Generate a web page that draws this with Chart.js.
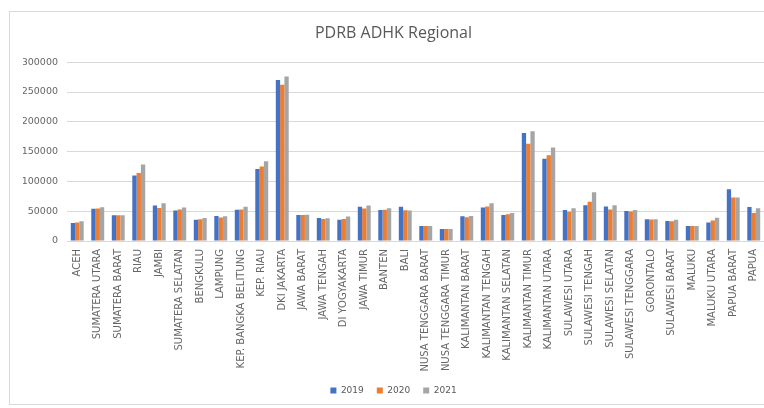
<!DOCTYPE html>
<html>
<head>
<meta charset="utf-8">
<script src="https://cdn.jsdelivr.net/npm/chart.js@4"></script>
<style>
  html, body { margin: 0; padding: 0; background: #fff; }
  #wrap { position: relative; width: 764px; height: 408px; }
</style>
</head>
<body>
<div id="wrap"><canvas id="pdrbChart" width="764" height="408"></canvas></div>
<script>
// Provinces
const provinces = [
    'ACEH', 'SUMATERA UTARA', 'SUMATERA BARAT', 'RIAU', 'JAMBI', 'SUMATERA SELATAN',
    'BENGKULU', 'LAMPUNG', 'KEP. BANGKA BELITUNG', 'KEP. RIAU', 'DKI JAKARTA',
    'JAWA BARAT', 'JAWA TENGAH', 'DI YOGYAKARTA', 'JAWA TIMUR', 'BANTEN', 'BALI',
    'NUSA TENGGARA BARAT', 'NUSA TENGGARA TIMUR', 'KALIMANTAN BARAT', 'KALIMANTAN TENGAH',
    'KALIMANTAN SELATAN', 'KALIMANTAN TIMUR', 'KALIMANTAN UTARA', 'SULAWESI UTARA',
    'SULAWESI TENGAH', 'SULAWESI SELATAN', 'SULAWESI TENGGARA', 'GORONTALO',
    'SULAWESI BARAT', 'MALUKU', 'MALUKU UTARA', 'PAPUA BARAT', 'PAPUA'
];

// Values per year
const pdrb2019 = [30000, 54000, 43000, 110000, 59500, 51000, 35500, 42000, 52500, 121000, 270000,
    43500, 38500, 35500, 57500, 52000, 57500, 25000, 20000, 41500, 56000,
    43500, 181000, 138000, 52000, 60000, 58000, 50500, 36500, 33500, 25000, 31000, 87000, 57000];
const pdrb2020 = [31000, 54500, 43000, 114000, 55500, 53000, 36500, 39500, 53000, 125000, 262000,
    43500, 37000, 37000, 54500, 52500, 51500, 25000, 20000, 40000, 58000,
    45000, 163000, 144000, 49000, 66000, 53000, 49500, 36000, 33000, 25000, 34500, 73000, 47000];
const pdrb2021 = [33000, 56500, 43000, 128500, 63500, 56000, 38500, 41500, 57500, 134000, 276000,
    44000, 38000, 41000, 59500, 55000, 51000, 25000, 20000, 42000, 63500,
    47000, 184000, 157000, 55000, 82000, 60000, 52000, 36500, 35500, 25000, 39000, 73000, 55000];

const years = ['2019', '2020', '2021'];
const yMax = 300000;
const yStep = 50000;

// Light frame around the chart, like the Excel chart border
const framePlugin = {
    id: 'frame',
    beforeDraw(chart) {
        const ctx = chart.ctx;
        ctx.save();
        ctx.fillStyle = '#fff';
        ctx.fillRect(0, 0, chart.width, chart.height);
        ctx.strokeStyle = '#d9d9d9';
        ctx.lineWidth = 1;
        ctx.strokeRect(9.5, 11.5, 760, 393);
        ctx.restore();
    }
};

const ctx = document.getElementById('pdrbChart').getContext('2d');
new Chart(ctx, {
    type: 'bar',
    data: {
        labels: provinces,
        datasets: [
            { label: years[0], data: pdrb2019, backgroundColor: '#4472C4' },
            { label: years[1], data: pdrb2020, backgroundColor: '#ED7D31' },
            { label: years[2], data: pdrb2021, backgroundColor: '#A5A5A5' }
        ]
    },
    options: {
        responsive: false,
        animation: false,
        layout: { padding: { left: 23, right: 0, top: 0, bottom: 3 } },
        datasets: { bar: { categoryPercentage: 0.63, barPercentage: 1.0 } },
        plugins: {
            title: {
                display: true,
                text: 'PDRB ADHK Regional',
                color: '#595959',
                font: { family: 'Open Sans', size: 16, weight: 'normal' },
                padding: { top: 24, bottom: 19 }
            },
            legend: {
                position: 'bottom',
                labels: {
                    color: '#595959',
                    font: { family: 'DejaVu Sans', size: 9 },
                    boxWidth: 6,
                    boxHeight: 6,
                    padding: 13
                }
            },
            tooltip: { enabled: false }
        },
        scales: {
            x: {
                grid: { display: false, drawTicks: false },
                border: { color: '#d9d9d9' },
                ticks: {
                    autoSkip: false,
                    minRotation: 90,
                    maxRotation: 90,
                    padding: 8,
                    color: '#666',
                    font: { family: 'DejaVu Sans', size: 10 }
                },
                afterFit(scale) {
                    scale.height = 132;
                    scale.paddingLeft = 0;
                    scale.paddingRight = 0;
                }
            },
            y: {
                min: 0,
                max: yMax,
                grid: { color: '#d9d9d9', drawTicks: false },
                border: { display: false },
                ticks: {
                    stepSize: yStep,
                    padding: 9,
                    color: '#666',
                    font: { family: 'DejaVu Sans', size: 9.5 },
                    callback: v => String(v)
                },
                afterFit(scale) { scale.width = 44; }
            }
        }
    },
    plugins: [framePlugin]
});
</script>
</body>
</html>
